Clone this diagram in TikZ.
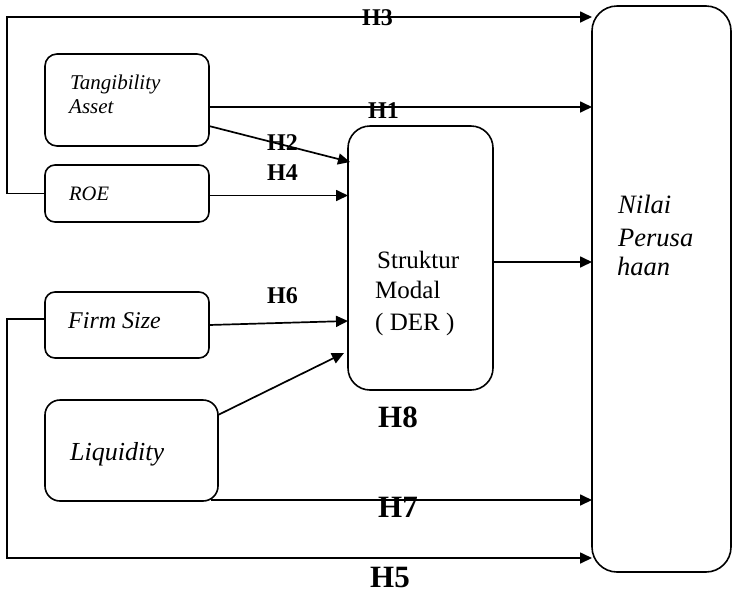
\documentclass[tikz,border=0pt]{standalone}
\usepackage{fontspec}
\setmainfont{Liberation Serif}
\usetikzlibrary{arrows.meta,calc}
\begin{document}
\begin{tikzpicture}[x=1pt,y=-1pt,
  box/.style={draw, line width=1.6pt, inner sep=0pt, outer sep=0pt, rectangle},
  arr/.style={line width=1.7pt, -{Triangle[length=12pt,width=11pt]}},
  lbl/.style={font=\bfseries\fontsize{24}{28}\selectfont, inner sep=0pt, anchor=base west},
  big/.style={font=\bfseries\fontsize{31}{36}\selectfont, inner sep=0pt, anchor=base west},
  txt/.style={inner sep=0pt, anchor=base west}
]
\useasboundingbox (0,0) rectangle (733,595);

% boxes
\node[box, minimum width=164pt, minimum height=92pt, rounded corners=12pt] (tang) at (127,100) {};
\node[box, minimum width=164pt, minimum height=57pt, rounded corners=10pt] (roe) at (127,193.5) {};
\node[box, minimum width=164pt, minimum height=66pt, rounded corners=10pt] (firm) at (127,325) {};
\node[box, minimum width=173pt, minimum height=101pt, rounded corners=15pt] (liq) at (131.5,450.5) {};
\node[box, minimum width=145pt, minimum height=264pt, rounded corners=22pt] (sm) at (420.5,258) {};
\node[box, minimum width=139pt, minimum height=566pt, rounded corners=25pt] (nilai) at (661.5,289) {};

% texts
\node[txt, font=\itshape\fontsize{21}{25}\selectfont] (t1) at (70,89) {Tangibility};
\node[txt, font=\itshape\fontsize{21}{25}\selectfont] (t2) at (69,113) {Asset};
\node[txt, font=\itshape\fontsize{20.5}{25}\selectfont] (t3) at (69,200) {ROE};
\node[txt, font=\itshape\fontsize{24}{28}\selectfont] (t4) at (68,328) {Firm Size};
\node[txt, font=\itshape\fontsize{26}{30}\selectfont] (t5) at (70,460) {Liquidity};
\node[txt, font=\fontsize{25}{30}\selectfont] (s1) at (377,268) {Struktur};
\node[txt, font=\fontsize{25}{30}\selectfont] (s2) at (375,298) {Modal};
\node[txt, font=\fontsize{25}{30}\selectfont] (s3) at (375,330) {( DER )};
\node[txt, font=\itshape\fontsize{26.5}{30}\selectfont] (n1) at (618,213) {Nilai};
\node[txt, font=\itshape\fontsize{26.5}{30}\selectfont] (n2) at (618,246) {Perusa};
\node[txt, font=\itshape\fontsize{26.5}{30}\selectfont] (n3) at (617,275) {haan};

% helper coordinates
\coordinate (c3) at (7,17);
\coordinate (c5) at (7,558);
\coordinate (h1s) at ($(tang.east)+(0,7)$);
\coordinate (h2s) at ($(tang.east)+(0,26)$);
\coordinate (h2e) at ($(sm.west)+(2,-96)$);
\coordinate (h4s) at ($(roe.east)+(0,2)$);
\coordinate (h6s) at (firm.east);
\coordinate (h6e) at ($(sm.west)+(0,63)$);
\coordinate (lqs) at ($(liq.east)+(0,-35.5)$);
\coordinate (lqe) at ($(sm.west)+(-4,95)$);
\coordinate (sme) at ($(sm.east)+(0,4)$);
\coordinate (h7s) at ($(liq.south east)+(-7,-1)$);
\coordinate (h5s) at ($(firm.west)+(0,-6)$);

% connectors
\draw[arr] (roe.west) -| (c3) -- (c3 -| nilai.west);
\draw[arr] (h1s) -- (h1s -| nilai.west);
\draw[arr] (h2s) -- (h2e);
\draw[arr] (h4s) -- (h4s -| sm.west);
\draw[arr] (h6s) -- (h6e);
\draw[arr] (lqs) -- (lqe);
\draw[arr] (sme) -- (sme -| nilai.west);
\draw[arr] (h7s) -- (h7s -| nilai.west);
\draw[arr] (h5s) -| (c5) -- (c5 -| nilai.west);

% labels
\node[lbl] (H3) at (362,25) {H3};
\node[lbl] (H1) at (368,118) {H1};
\node[lbl] (H2) at (267,150) {H2};
\node[lbl] (H4) at (267,180) {H4};
\node[lbl] (H6) at (267,303) {H6};
\node[big] (H8) at (378,427) {H8};
\node[big] (H7) at (378,517) {H7};
\node[big] (H5) at (370,587) {H5};
\end{tikzpicture}
\end{document}
